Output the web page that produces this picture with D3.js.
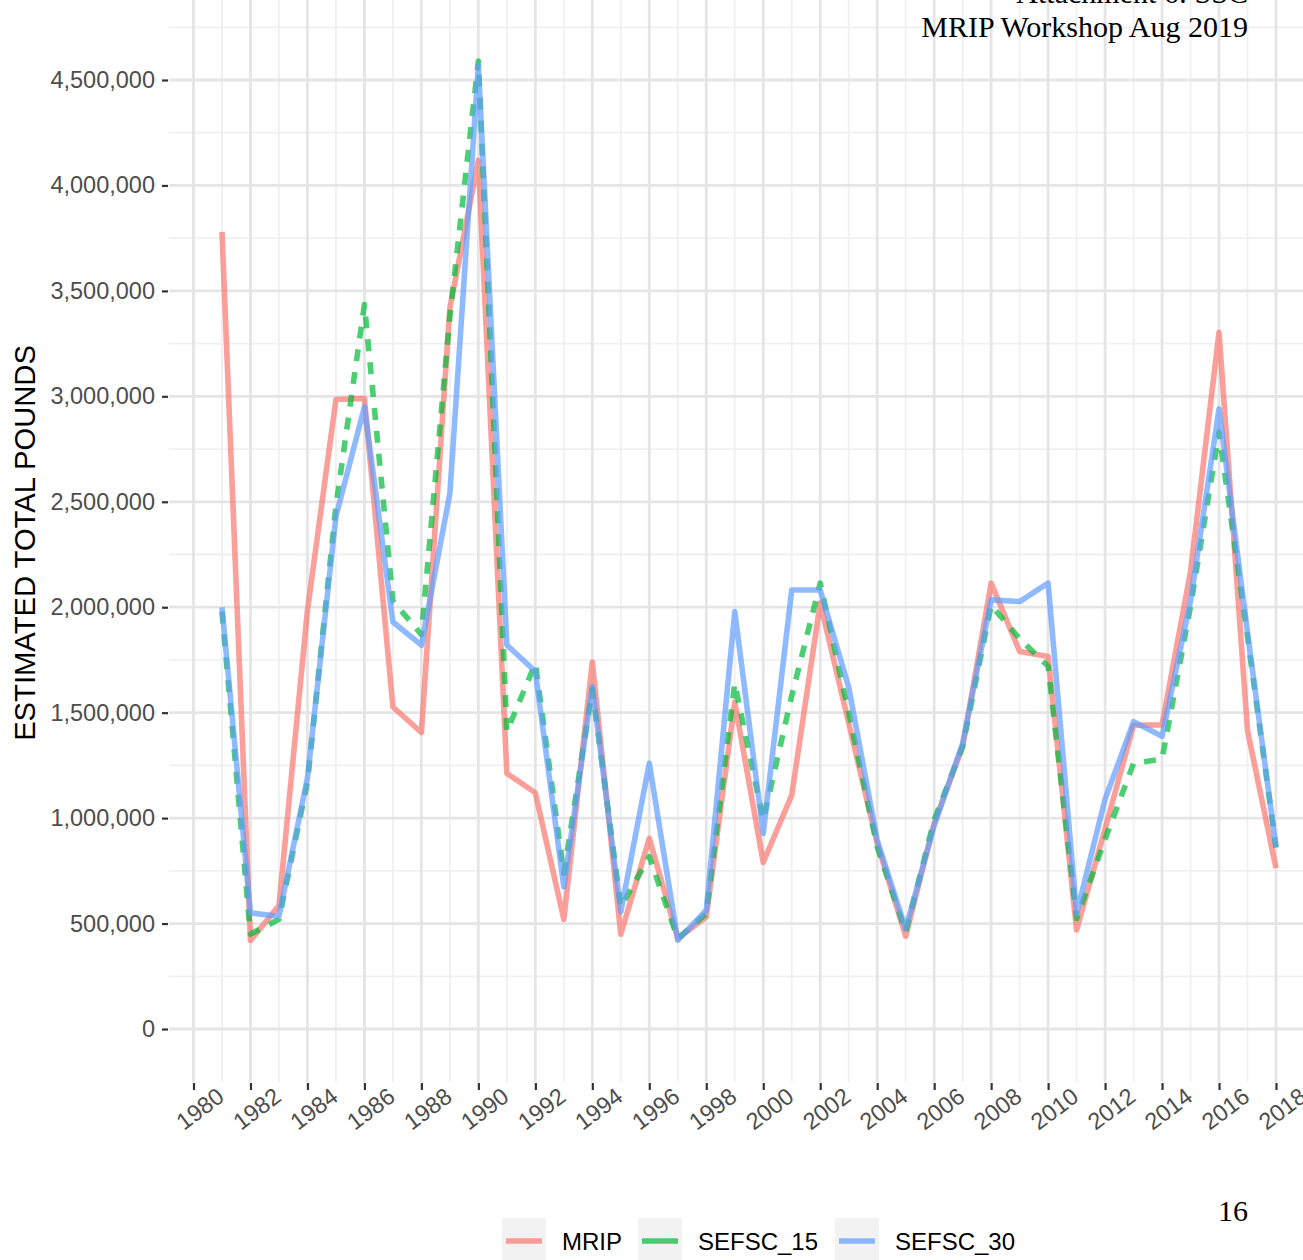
<!DOCTYPE html>
<html>
<head>
    <meta charset="UTF-8">
    <title>Estimated total pounds</title>
    <style>
        body { margin: 0; background: #fff; }
        svg { display: block; }
    </style>
</head>
<body>
<svg id="chart"></svg>

<script src="https://cdn.jsdelivr.net/npm/d3@7"></script>
<script>

    const years = d3.range(1981, 2019);

    const mrip = [3780000, 420000, 585000, 1985000, 2985000, 2990000, 1527000, 1406000, 3420000, 4120000,
        1212000, 1120000, 520000, 1740000, 450000, 904000, 429000, 532000, 1550000, 790000,
        1109000, 2020000, 1450000, 880000, 440000, 975000, 1339000, 2114000, 1790000, 1766000,
        470000, 950000, 1440000, 1442000, 2169000, 3303000, 1415000, 762000];

    const sefsc15 = [1980000, 450000, 520000, 1170000, 2480000, 3435000, 2030000, 1870000, 3380000, 4590000,
        1410000, 1734000, 738000, 1610000, 579000, 817000, 429000, 548000, 1639000, 991000,
        1580000, 2114000, 1500000, 864000, 460000, 991000, 1340000, 2010000, 1850000, 1720000,
        524000, 900000, 1260000, 1280000, 2005000, 2830000, 1860000, 860000];

    const sefsc30 = [2000000, 550000, 535000, 1190000, 2430000, 2950000, 1930000, 1820000, 2540000, 4570000,
        1821000, 1695000, 674000, 1623000, 556000, 1260000, 421000, 563000, 1979000, 927000,
        2082000, 2082000, 1620000, 896000, 475000, 965000, 1355000, 2035000, 2027000, 2114000,
        548000, 1090000, 1457000, 1388000, 2030000, 2940000, 1880000, 862000];

    const seriesNames = ['MRIP', 'SEFSC_15', 'SEFSC_30'];
    const seriesColors = ['#F8766D', '#00BA38', '#619CFF'];

    const yTicks = d3.range(0, 4500001, 500000);
    const yMinor = d3.range(250000, 4750001, 500000);
    const xTicks = d3.range(1980, 2019, 2);
    const xMinor = d3.range(1981, 2020, 2);

    const width = 1303;
    const height = 1260;

    // panel is cropped at top and right, as in the page scan
    const panel = {left: 169, top: 0, right: 1303, bottom: 1082};

    const svg = d3.select('#chart')
        .attr('width', width)
        .attr('height', height);

    const x = d3.scaleLinear().domain([1980, 2018]).range([193.5, 1276]);
    const y = d3.scaleLinear().domain([0, 4500000]).range([1029, 80]);

    svg.append('defs').append('clipPath').attr('id', 'panelClip')
        .append('rect')
        .attr('x', panel.left).attr('y', panel.top)
        .attr('width', panel.right - panel.left).attr('height', panel.bottom - panel.top);

    const grid = svg.append('g').attr('clip-path', 'url(#panelClip)');

    grid.selectAll('line.ymin').data(yMinor).enter().append('line')
        .attr('x1', panel.left).attr('x2', panel.right)
        .attr('y1', d => y(d)).attr('y2', d => y(d))
        .attr('stroke', '#F0F0F0').attr('stroke-width', 1.8);

    grid.selectAll('line.xmin').data(xMinor).enter().append('line')
        .attr('y1', panel.top).attr('y2', panel.bottom)
        .attr('x1', d => x(d)).attr('x2', d => x(d))
        .attr('stroke', '#F0F0F0').attr('stroke-width', 1.8);

    grid.selectAll('line.ymaj').data(yTicks).enter().append('line')
        .attr('x1', panel.left).attr('x2', panel.right)
        .attr('y1', d => y(d)).attr('y2', d => y(d))
        .attr('stroke', '#E5E5E5').attr('stroke-width', 2.8);

    grid.selectAll('line.xmaj').data(xTicks).enter().append('line')
        .attr('y1', panel.top).attr('y2', panel.bottom)
        .attr('x1', d => x(d)).attr('x2', d => x(d))
        .attr('stroke', '#E5E5E5').attr('stroke-width', 2.8);

    // y axis
    const yAxis = d3.axisLeft(y)
        .tickValues(yTicks)
        .tickSize(6)
        .tickPadding(7)
        .tickFormat(d3.format(','));

    const gy = svg.append('g')
        .attr('transform', 'translate(' + (panel.left - 1) + ',0)')
        .call(yAxis);
    gy.select('.domain').remove();
    gy.selectAll('.tick line').attr('stroke', '#333333').attr('stroke-width', 2.2);
    gy.selectAll('.tick text')
        .attr('fill', '#4D4D4D')
        .style('font-family', 'Liberation Sans, Arial, sans-serif')
        .style('font-size', '23.5px');

    // x axis
    const xAxis = d3.axisBottom(x)
        .tickValues(xTicks)
        .tickSize(7)
        .tickFormat(d3.format('d'));

    const gx = svg.append('g')
        .attr('transform', 'translate(0,' + (panel.bottom + 1) + ')')
        .call(xAxis);
    gx.select('.domain').remove();
    gx.selectAll('.tick line').attr('stroke', '#333333').attr('stroke-width', 2.2);
    gx.selectAll('.tick text')
        .attr('fill', '#4D4D4D')
        .attr('y', 0)
        .attr('dy', 0)
        .attr('text-anchor', 'middle')
        .attr('dominant-baseline', 'central')
        .attr('transform', 'translate(6,26) rotate(-37)')
        .style('font-family', 'Liberation Sans, Arial, sans-serif')
        .style('font-size', '23.5px');

    // y title
    svg.append('text')
        .attr('transform', 'translate(35,543) rotate(-90)')
        .attr('text-anchor', 'middle')
        .attr('fill', '#000')
        .style('font-family', 'Liberation Sans, Arial, sans-serif')
        .style('font-size', '29.2px')
        .text('ESTIMATED TOTAL POUNDS');

    // lines
    const seriesValues = [mrip, sefsc15, sefsc30];
    const line = d3.line()
        .x(d => x(d[0]))
        .y(d => y(d[1]));

    const lines = svg.append('g').attr('clip-path', 'url(#panelClip)');
    seriesValues.forEach(function (vals, i) {
        lines.append('path')
            .datum(years.map((yr, j) => [yr, vals[j]]))
            .attr('d', line)
            .attr('fill', 'none')
            .attr('stroke', seriesColors[i])
            .attr('stroke-opacity', 0.7)
            .attr('stroke-width', 5.6)
            .attr('stroke-linejoin', 'round')
            .attr('stroke-linecap', 'butt')
            .attr('stroke-dasharray', seriesNames[i] === 'SEFSC_15' ? '12,11' : null);
    });

    // legend
    const legendKeys = [502, 638, 835];
    const legend = svg.append('g');
    seriesNames.forEach(function (name, i) {
        const kx = legendKeys[i];
        legend.append('rect')
            .attr('x', kx).attr('y', 1218)
            .attr('width', 44).attr('height', 46)
            .attr('fill', '#F2F2F2');
        legend.append('line')
            .attr('x1', kx + 4).attr('x2', kx + 40)
            .attr('y1', 1241).attr('y2', 1241)
            .attr('stroke', seriesColors[i])
            .attr('stroke-opacity', 0.7)
            .attr('stroke-width', 5.6);
        legend.append('text')
            .attr('x', kx + 60).attr('y', 1241)
            .attr('dominant-baseline', 'central')
            .attr('fill', '#000')
            .style('font-family', 'Liberation Sans, Arial, sans-serif')
            .style('font-size', '24px')
            .text(name);
    });

    // page header / footer from the source document
    const serif = 'Liberation Serif, Times New Roman, serif';
    svg.append('text')
        .attr('x', 1248).attr('y', 3)
        .attr('text-anchor', 'end')
        .style('font-family', serif).style('font-size', '30px')
        .text('Attachment 6: SSC');
    svg.append('text')
        .attr('x', 1248).attr('y', 37)
        .attr('text-anchor', 'end')
        .style('font-family', serif).style('font-size', '30px')
        .text('MRIP Workshop Aug 2019');
    svg.append('text')
        .attr('x', 1248).attr('y', 1221)
        .attr('text-anchor', 'end')
        .style('font-family', serif).style('font-size', '30px')
        .text('16');

</script>
</body>
</html>
